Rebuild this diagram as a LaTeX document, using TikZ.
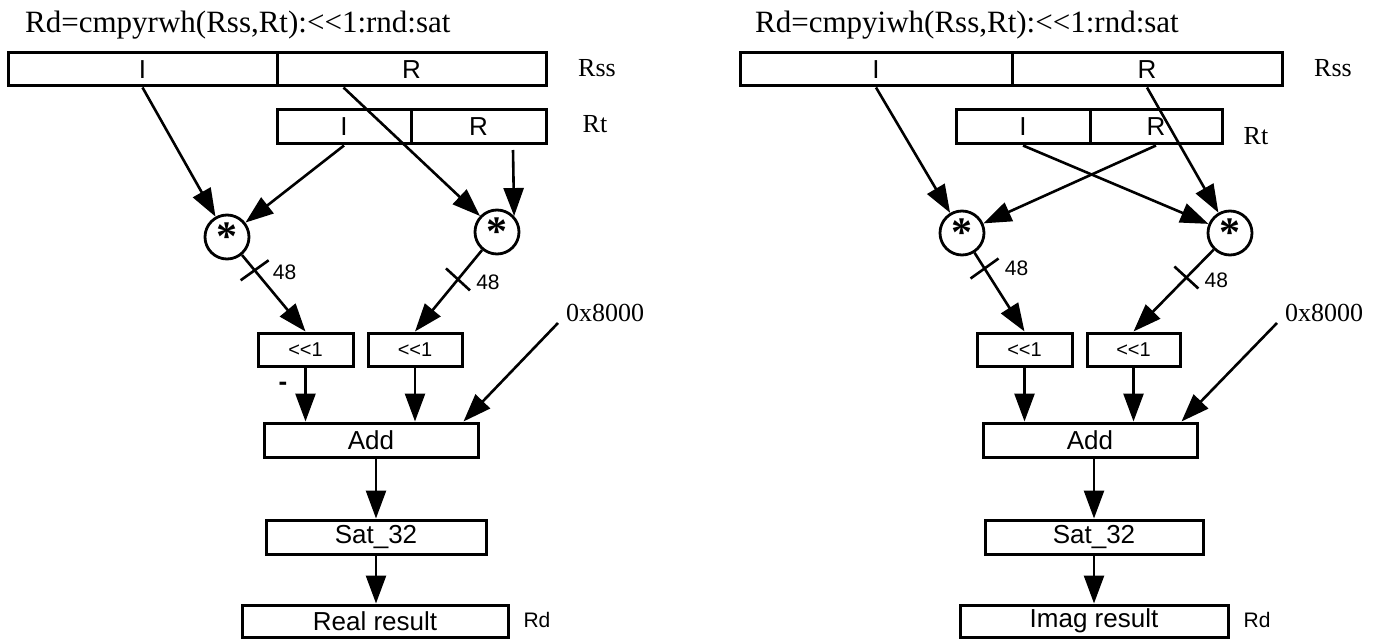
\documentclass[tikz,border=0pt]{standalone}
\usepackage{fontspec}
\setmainfont{Liberation Serif}
\setsansfont{Liberation Sans}
\usetikzlibrary{arrows.meta,calc}
\newcommand{\shl}{<\kern0pt<}
\begin{document}
\begin{tikzpicture}[x=1pt,y=-1pt,
  box/.style={draw, line width=3pt, inner sep=0pt, font=\sffamily\fontsize{26}{26}\selectfont},
  sbox/.style={box, font=\sffamily\fontsize{20}{20}\selectfont},
  mul/.style={circle, draw, line width=2.8pt, minimum size=44pt, inner sep=0pt, font=\bfseries\fontsize{42}{42}\selectfont},
  arr/.style={line width=2.6pt, -{Triangle[length=28pt,width=20pt]}},
  tickline/.style={line width=2.6pt},
  lbl/.style={inner sep=0pt, font=\fontsize{26}{26}\selectfont},
  slbl/.style={inner sep=0pt, font=\sffamily\fontsize{21}{21}\selectfont},
  ttl/.style={inner sep=0pt, anchor=base west, font=\fontsize{31}{31}\selectfont}]
\useasboundingbox (0,0) rectangle (1377,639);

% ---------------- left panel ----------------
\node[ttl] (t1) at (25,33) {Rd=cmpyrwh(Rss,Rt):\shl 1:rnd:sat};
\node[box, minimum width=269pt, minimum height=33pt] (rssI) at (142.5,69.5) {I};
\node[box, minimum width=269pt, minimum height=33pt] (rssR) at (411.5,69.5) {R};
\node[lbl] (rssL) at (597,68) {Rss};
\node[box, minimum width=134pt, minimum height=34pt] (rtI) at (344,127) {I};
\node[box, minimum width=135pt, minimum height=34pt] (rtR) at (478.5,127) {R};
\node[lbl] (rtL) at (595,124) {Rt};
\node[mul] (c1) at (227,237) {\raisebox{-0.2em}{*}};
\node[mul] (c2) at (497,232) {\raisebox{-0.2em}{*}};
\node[sbox, minimum width=95pt, minimum height=33pt] (sl1) at (305.5,349.5) {\shl 1};
\node[sbox, minimum width=94pt, minimum height=33pt] (sl2) at (415,349.5) {\shl 1};
\node[box, minimum width=214pt, minimum height=34pt] (add1) at (371,440) {Add};
\node[box, minimum width=220pt, minimum height=34pt] (sat1) at (376,537) {Sat\_32};
\node[box, minimum width=266pt, minimum height=32pt] (res1) at (375,621) {Real result};
\node[slbl] (rd1) at (537,620) {Rd};
\node[lbl] (k1) at (605,313) {0x8000};
\node[slbl, font=\sffamily\bfseries\fontsize{26}{26}\selectfont] (m1) at (283,386) {-};
\coordinate (rssRo) at ($(rssR.south west)!0.25!(rssR.south east)$);
\coordinate (rtRo) at (513,150);
\coordinate (k1o) at (558,323);
\coordinate (add1k) at ($(add1.north east)+(-16,0)$);

\draw[arr] (rssI.south) -- (c1);
\draw[arr] (rtI.south) -- (c1);
\draw[arr] (rssRo) -- (c2);
\draw[arr] (rtRo) -- (c2.43);
\draw[arr] (c1) -- (sl1.north) coordinate[pos=0.2] (tk1);
\draw[arr] (c2) -- (sl2.north) coordinate[pos=0.36] (tk2);
\draw[tickline] ($(tk1)+(-14,10)$) -- ($(tk1)+(14,-10)$);
\draw[tickline] ($(tk2)+(-12,-11)$) -- ($(tk2)+(12,11)$);
\node[slbl] (n1) at ($(tk1)+(30,2)$) {48};
\node[slbl] (n2) at ($(tk2)+(30,3)$) {48};
\draw[arr] (sl1.south) -- (sl1.south |- add1.north);
\draw[arr] (sl2.south) -- (sl2.south |- add1.north);
\draw[arr] (k1o) -- (add1k);
\draw[arr] (sat1.north |- add1.south) -- (sat1.north);
\draw[arr] (sat1.south) -- (sat1.south |- res1.north);

% ---------------- right panel ----------------
\node[ttl] (t2) at (755,33) {Rd=cmpyiwh(Rss,Rt):\shl 1:rnd:sat};
\node[box, minimum width=272pt, minimum height=33pt] (rssI2) at (876,69.5) {I};
\node[box, minimum width=270pt, minimum height=33pt] (rssR2) at (1147,69.5) {R};
\node[lbl] (rssL2) at (1333,68) {Rss};
\node[box, minimum width=134pt, minimum height=34pt] (rtI2) at (1023,127) {I};
\node[box, minimum width=132pt, minimum height=34pt] (rtR2) at (1156,127) {R};
\node[lbl] (rtL2) at (1256,136) {Rt};
\node[mul] (c3) at (962,233) {\raisebox{-0.2em}{*}};
\node[mul] (c4) at (1230,233) {\raisebox{-0.2em}{*}};
\node[sbox, minimum width=95pt, minimum height=33pt] (sl3) at (1024.5,349.5) {\shl 1};
\node[sbox, minimum width=93pt, minimum height=33pt] (sl4) at (1133.5,349.5) {\shl 1};
\node[box, minimum width=214pt, minimum height=34pt] (add2) at (1090,440) {Add};
\node[box, minimum width=218pt, minimum height=34pt] (sat2) at (1094,537) {Sat\_32};
\node[box, minimum width=268pt, minimum height=32pt] (res2) at (1094,621) {Imag result};
\node[slbl] (rd2) at (1257,620) {Rd};
\node[lbl] (k2) at (1324,313) {0x8000};
\coordinate (k2o) at (1277,323);
\coordinate (add2k) at ($(add2.north east)+(-17,0)$);

\draw[arr] (rssI2.south) -- (c3);
\draw[arr] (rssR2.south) -- (c4);
\draw[arr] (rtI2.south) -- (c4);
\draw[arr] (rtR2.south) -- (c3);
\draw[arr] (c3) -- (sl3.north) coordinate[pos=0.2] (tk3);
\draw[arr] (c4) -- (sl4.north) coordinate[pos=0.34] (tk4);
\draw[tickline] ($(tk3)+(-14,10)$) -- ($(tk3)+(14,-10)$);
\draw[tickline] ($(tk4)+(-12,-11)$) -- ($(tk4)+(12,11)$);
\node[slbl] (n3) at ($(tk3)+(32,0)$) {48};
\node[slbl] (n4) at ($(tk4)+(30,3)$) {48};
\draw[arr] (sl3.south) -- (sl3.south |- add2.north);
\draw[arr] (sl4.south) -- (sl4.south |- add2.north);
\draw[arr] (k2o) -- (add2k);
\draw[arr] (sat2.north |- add2.south) -- (sat2.north);
\draw[arr] (sat2.south) -- (sat2.south |- res2.north);
\end{tikzpicture}
\end{document}
